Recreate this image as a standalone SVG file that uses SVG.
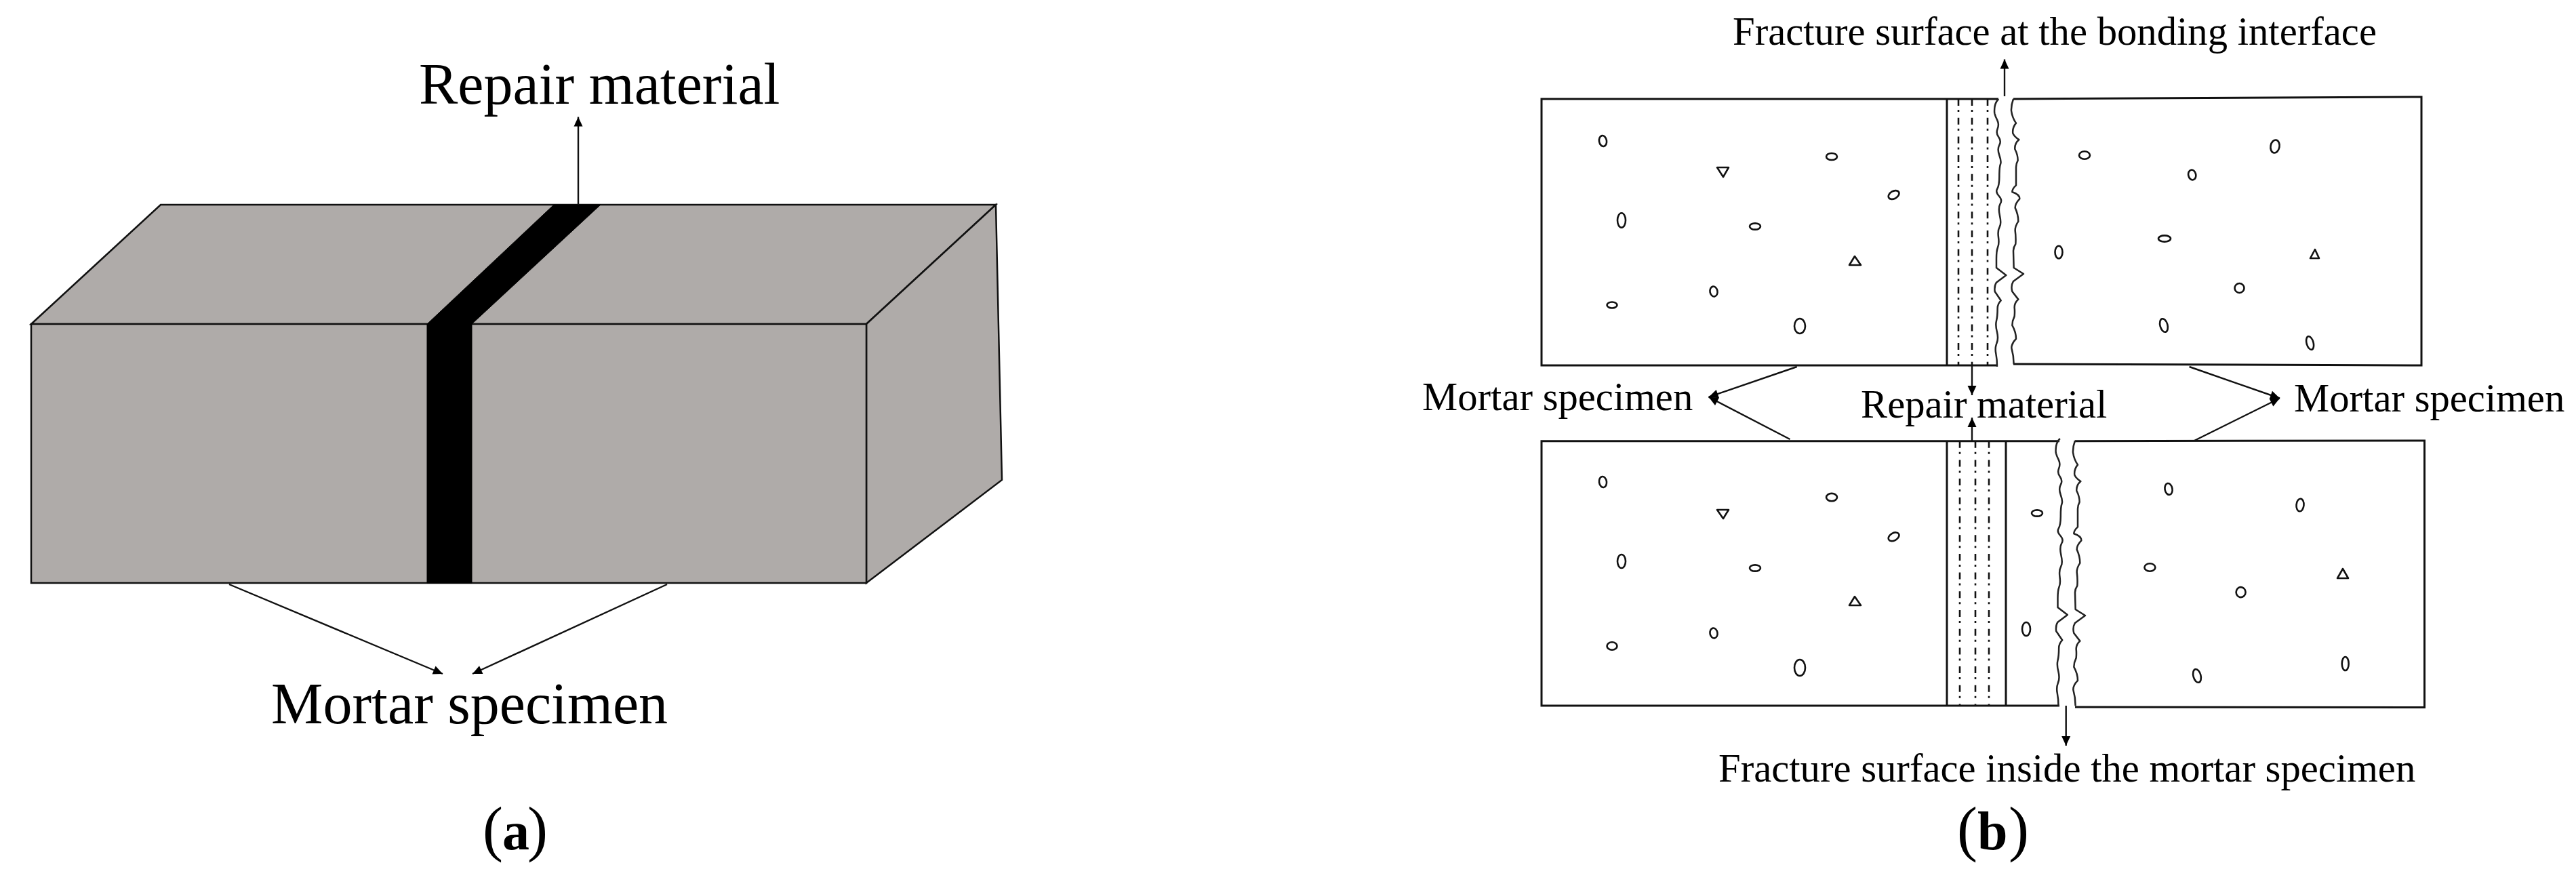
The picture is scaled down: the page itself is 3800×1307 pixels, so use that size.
<svg xmlns="http://www.w3.org/2000/svg" width="3800" height="1307" viewBox="0 0 3800 1307">
<style>
text{font-family:"Liberation Serif","Times New Roman",serif;fill:#000}
.lg{font-size:86px}
.sm{font-size:58.7px}
.edge{fill:none;stroke:#111;stroke-width:3}
.dash{fill:none;stroke:#111;stroke-width:2.6;stroke-dasharray:10 6 3 8.7}
.grain{fill:none;stroke:#111;stroke-width:2.6}
.crack{fill:none;stroke:#222;stroke-width:7.5;stroke-linejoin:round}
.face{fill:#afaba9;stroke:#111;stroke-width:2.5;stroke-linejoin:miter}
.conn{fill:none;stroke:#111;stroke-width:2.4}
</style>
<defs>
<marker id="head" markerUnits="userSpaceOnUse" markerWidth="18" markerHeight="16" refX="16" refY="8" orient="auto">
<path d="M2 1.5L16 8L2 14.5Z" fill="#000"/>
</marker>
<path id="crackL" class="crack" d="M385 48Q372 60 368 80Q365 100 367 112Q370 125 379 142Q388 160 380 180Q372 200 385 217Q398 235 388 252Q378 270 388 297Q398 325 393 337Q388 350 388 390Q388 430 379 445Q370 460 386 477Q403 495 392 512Q382 530 390 565Q398 600 389 615Q380 630 384 660Q388 690 381 705Q375 720 375 755L375 795L418 828L375 860Q365 875 368 900L395 940Q380 955 380 975Q380 1010 375 1030Q370 1050 378 1080Q385 1110 376 1130Q368 1150 373 1175Q378 1200 378 1232"/>
<path id="crackR" class="crack" d="M450 48Q440 75 441 100Q445 130 462 155Q445 175 448 200Q455 215 475 228Q455 245 457 270Q470 295 470 320Q462 335 462 350L462 430Q445 445 445 460Q478 470 478 490Q458 510 458 530Q472 560 472 590Q458 610 458 630Q462 660 460 690Q450 705 450 720L452 795L495 822L450 855Q438 875 445 900L472 935Q455 950 455 970Q457 990 455 1010Q445 1030 445 1050Q462 1080 462 1110Q442 1130 442 1150Q452 1185 452 1222"/>
</defs>
<rect width="3800" height="1307" fill="#fff"/>

<g id="block">
<path class="face" d="M46 478L237 302L1469 302L1278 478Z"/>
<path class="face" d="M1278 478L1469 302L1478 708L1278 860Z"/>
<rect class="face" x="46" y="478" width="1232" height="382"/>
<path d="M817 302L886 302L696 478L696 860L630 860L630 478Z" fill="#000" stroke="#000" stroke-width="1"/>
</g>

<g id="specimen-top-left">
<path class="edge" d="M2948 146L2274 146L2274 539L2947 539"/>
<path class="edge" d="M2872 146L2872 539"/>
<path class="dash" d="M2889 146V539M2909 146V539M2932 146V539"/>
<use href="#crackL" transform="translate(2820 130) scale(.3333)"/>
<g class="grain">
<ellipse cx="2364.5" cy="208" rx="5.5" ry="8" transform="rotate(-10 2364.5 208)"/>
<path d="M2533 247L2550 247L2542 261Z" stroke-linejoin="round"/>
<ellipse cx="2702" cy="231" rx="8" ry="5"/>
<ellipse cx="2793.6" cy="287.5" rx="8.5" ry="5.5" transform="rotate(-30 2793.6 287.5)"/>
<ellipse cx="2392" cy="325" rx="6" ry="10.7"/>
<ellipse cx="2589" cy="334" rx="8" ry="4.6"/>
<path d="M2728 391L2745 391L2736 378Z" stroke-linejoin="round"/>
<ellipse cx="2528" cy="430" rx="5.5" ry="7.5" transform="rotate(-10 2528 430)"/>
<ellipse cx="2378" cy="450" rx="7.5" ry="4.5"/>
<ellipse cx="2655" cy="481" rx="8" ry="11"/>
</g>
</g>

<g id="specimen-top-right">
<path class="edge" d="M2970 146L3572 143L3572 539L2970 537"/>
<use href="#crackR" transform="translate(2820 130) scale(.3333)"/>
<g class="grain">
<ellipse cx="3075" cy="229" rx="8" ry="5.7"/>
<ellipse cx="3233.7" cy="258" rx="5.5" ry="7.5" transform="rotate(-12 3233.7 258)"/>
<ellipse cx="3356" cy="216" rx="6.5" ry="9.6" transform="rotate(10 3356 216)"/>
<ellipse cx="3193" cy="352" rx="9" ry="4.6"/>
<ellipse cx="3037" cy="372" rx="5.5" ry="9.3"/>
<path d="M3408 381L3421 381L3415 368Z" stroke-linejoin="round"/>
<ellipse cx="3303.5" cy="425" rx="7" ry="7"/>
<ellipse cx="3192" cy="480" rx="5.5" ry="10" transform="rotate(-15 3192 480)"/>
<ellipse cx="3407.6" cy="506" rx="5" ry="10" transform="rotate(-15 3407.6 506)"/>
</g>
</g>

<g id="specimen-bottom-left">
<path class="edge" d="M3038 650.7L2274 650.7L2274 1041L3038 1041"/>
<path class="edge" d="M2872 650.7V1041M2959 650.7V1041"/>
<path class="dash" d="M2891 650.7V1041M2914 650.7V1041M2934 650.7V1041"/>
<use href="#crackL" transform="translate(2910.5 631) scale(.3333)"/>
<g class="grain">
<ellipse cx="2364.5" cy="711" rx="5.5" ry="8" transform="rotate(-8 2364.5 711)"/>
<path d="M2533 752L2550 752L2542 765Z" stroke-linejoin="round"/>
<ellipse cx="2702" cy="733.6" rx="8" ry="5.7"/>
<ellipse cx="2793.6" cy="791.8" rx="8.5" ry="5.5" transform="rotate(-30 2793.6 791.8)"/>
<ellipse cx="2392" cy="828" rx="6" ry="10"/>
<ellipse cx="2589" cy="838" rx="8" ry="4.6"/>
<path d="M2728 893L2745 893L2736 880Z" stroke-linejoin="round"/>
<ellipse cx="2528" cy="934" rx="5.5" ry="7.5" transform="rotate(-10 2528 934)"/>
<ellipse cx="2378" cy="953" rx="7.5" ry="5.7"/>
<ellipse cx="2655" cy="985" rx="8" ry="12"/>
<ellipse cx="3005" cy="757" rx="8" ry="4.6"/>
<ellipse cx="2989" cy="928" rx="6" ry="10"/>
</g>
</g>

<g id="specimen-bottom-right">
<path class="edge" d="M3061 650.7L3576.5 650L3576.5 1043.5L3061 1043"/>
<use href="#crackR" transform="translate(2911 634) scale(.3333)"/>
<g class="grain">
<ellipse cx="3199" cy="721.4" rx="5.5" ry="8.5" transform="rotate(-10 3199 721.4)"/>
<ellipse cx="3393" cy="745" rx="5.5" ry="9.3" transform="rotate(5 3393 745)"/>
<ellipse cx="3171.4" cy="837" rx="8" ry="5.7"/>
<path d="M3448 853L3464 853L3456 839Z" stroke-linejoin="round"/>
<ellipse cx="3305.6" cy="873.6" rx="7" ry="7.5"/>
<ellipse cx="3241" cy="997" rx="5.5" ry="10" transform="rotate(-15 3241 997)"/>
<ellipse cx="3459.7" cy="979" rx="5" ry="10"/>
</g>
</g>

<g id="connectors" class="conn" marker-end="url(#head)">
<path d="M853 302L853 172.5"/>
<path d="M338 862L653 994"/>
<path d="M984 862L697 994"/>
<path d="M2957 142L2957 87.5"/>
<path d="M2909 539L2909 583"/>
<path d="M2909 650L2909 616"/>
<path d="M3047.7 1041L3047.7 1100"/>
<path d="M2650.7 541L2520.6 585.7"/>
<path d="M2640.5 648L2520.6 585.7"/>
<path d="M3229.6 541L3363 587.5"/>
<path d="M3237 650L3363 587.5"/>
</g>

<g id="label-repair-a"><text class="lg" x="618" y="153">Repair material</text></g>
<g id="label-mortar-a"><text class="lg" x="400" y="1066.7">Mortar specimen</text></g>
<g id="caption-a"><text y="1253"><tspan x="712" font-size="90">(</tspan><tspan x="741" font-size="80" font-weight="700">a</tspan><tspan x="778" font-size="90">)</tspan></text></g>
<g id="label-fracture-top"><text class="sm" x="2556" y="66">Fracture surface at the bonding interface</text></g>
<g id="label-mortar-b-left"><text class="sm" x="2098" y="605">Mortar specimen</text></g>
<g id="label-repair-b"><text class="sm" x="2745" y="616">Repair material</text></g>
<g id="label-mortar-b-right"><text class="sm" x="3384" y="607">Mortar specimen</text></g>
<g id="label-fracture-bottom"><text class="sm" x="2535" y="1153">Fracture surface inside the mortar specimen</text></g>
<g id="caption-b"><text y="1253"><tspan x="2887" font-size="90">(</tspan><tspan x="2917" font-size="80" font-weight="700">b</tspan><tspan x="2963" font-size="90">)</tspan></text></g>
</svg>
